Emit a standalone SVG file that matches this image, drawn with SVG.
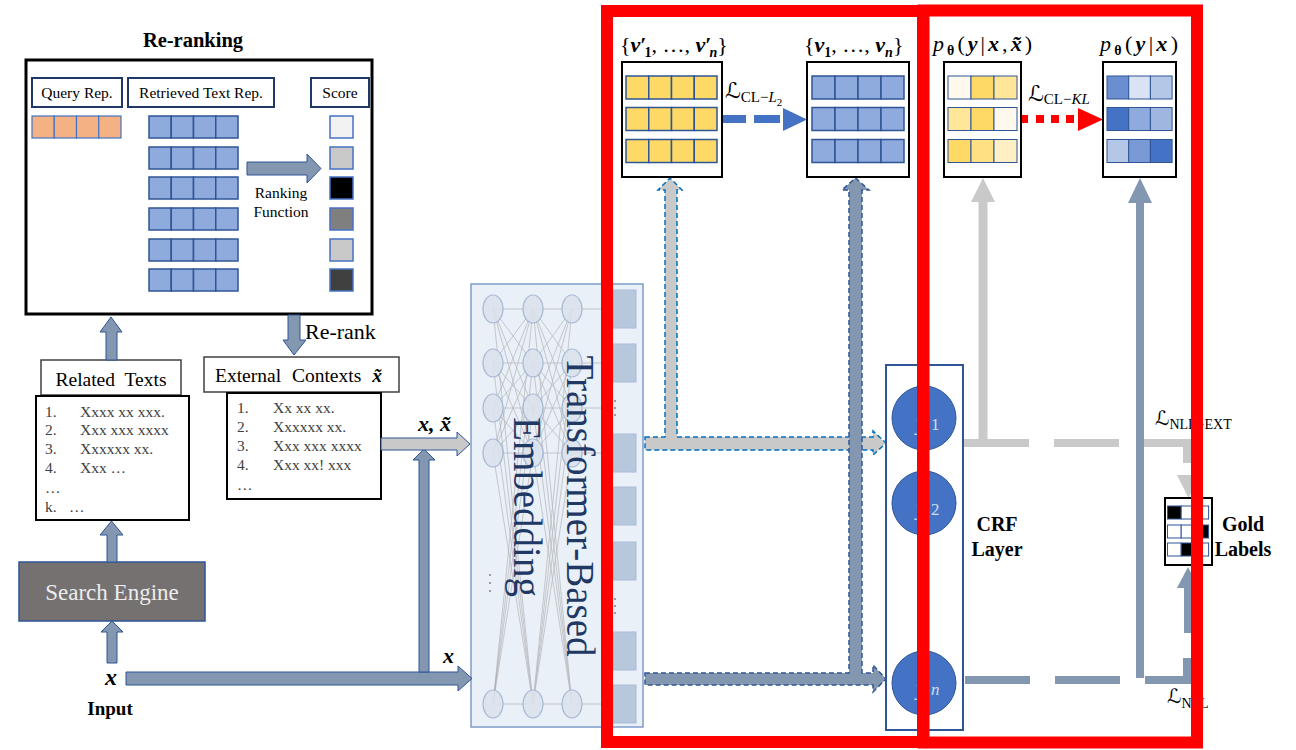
<svg xmlns="http://www.w3.org/2000/svg" width="1296" height="750" viewBox="0 0 1296 750">
<defs>
<style>
text{font-family:"Liberation Serif","Times New Roman",serif;fill:#000}
.hdr{font-size:15.5px;text-anchor:middle}
.lst{font-size:15.5px;fill:#404040}
.b{font-weight:bold}
.bi{font-weight:bold;font-style:italic}
.it{font-style:italic}
.cal{font-family:"DejaVu Serif","DejaVu Sans",serif}
.blk{fill:#8497B0;stroke:#2F5597;stroke-width:1}
.gry{fill:#C9C9C9;stroke:#2F5597;stroke-width:1}
.hbox{fill:#fff;stroke:#1F3864;stroke-width:2}
.cellB{fill:#8FAADC;stroke:#2F5597;stroke-width:1.5}
.cellY{fill:#FFD966;stroke:#2F5597;stroke-width:1.5}
.cellO{fill:#F4B183;stroke:#4472C4;stroke-width:1.2}
.sq{stroke:#4472C4;stroke-width:1.5}
.frame{fill:#fff;stroke:#000;stroke-width:2}
.red{fill:none;stroke:#FF0000;stroke-width:12}
.neu{fill:#DCE3EE;stroke:#A3B6D4;stroke-width:1.2}
.tok{fill:#B8C8DC;stroke:#A9BCD6;stroke-width:1}
.gc{stroke:#2F5597;stroke-width:1}
.yl{font-size:20px;font-style:italic;fill:#fff}
</style>
<g id="rowB4">
<rect class="cellB" x="0" y="0" width="22.25" height="22"/>
<rect class="cellB" x="22.25" y="0" width="22.25" height="22"/>
<rect class="cellB" x="44.5" y="0" width="22.25" height="22"/>
<rect class="cellB" x="66.75" y="0" width="22.25" height="22"/>
</g>
<g id="rowY4">
<rect class="cellY" x="0" y="0" width="22.75" height="23"/>
<rect class="cellY" x="22.75" y="0" width="22.75" height="23"/>
<rect class="cellY" x="45.5" y="0" width="22.75" height="23"/>
<rect class="cellY" x="68.25" y="0" width="22.75" height="23"/>
</g>
<g id="rowV4">
<rect class="cellB" x="0" y="0" width="23" height="23"/>
<rect class="cellB" x="23" y="0" width="23" height="23"/>
<rect class="cellB" x="46" y="0" width="23" height="23"/>
<rect class="cellB" x="69" y="0" width="23" height="23"/>
</g>
</defs>

<rect width="1296" height="750" fill="#fff"/>

<!-- Re-ranking module -->
<g id="reranking">
<text x="193" y="47" font-size="20.5" class="b" text-anchor="middle">Re-ranking</text>
<rect x="26" y="60" width="346" height="254" fill="#fff" stroke="#000" stroke-width="3"/>
<rect class="hbox" x="32" y="78" width="90" height="29"/>
<rect class="hbox" x="128" y="78" width="146" height="29"/>
<rect class="hbox" x="311" y="78" width="58" height="29"/>
<text class="hdr" x="77" y="98">Query Rep.</text>
<text class="hdr" x="201" y="98">Retrieved Text Rep.</text>
<text class="hdr" x="340" y="98">Score</text>
<rect class="cellO" x="32" y="116" width="22.25" height="22"/>
<rect class="cellO" x="54.25" y="116" width="22.25" height="22"/>
<rect class="cellO" x="76.5" y="116" width="22.25" height="22"/>
<rect class="cellO" x="98.75" y="116" width="22.25" height="22"/>
<use href="#rowB4" x="149" y="116"/>
<use href="#rowB4" x="149" y="147"/>
<use href="#rowB4" x="149" y="177"/>
<use href="#rowB4" x="149" y="208"/>
<use href="#rowB4" x="149" y="239"/>
<use href="#rowB4" x="149" y="269"/>
<rect class="sq" x="330" y="116" width="23" height="22" fill="#F2F2F2"/>
<rect class="sq" x="330" y="147" width="23" height="22" fill="#C9C9C9"/>
<rect class="sq" x="330" y="177" width="23" height="22" fill="#000000"/>
<rect class="sq" x="330" y="208" width="23" height="22" fill="#7F7F7F"/>
<rect class="sq" x="330" y="239" width="23" height="22" fill="#C9C9C9"/>
<rect class="sq" x="330" y="269" width="23" height="22" fill="#404040"/>
<polygon class="blk" points="247,162 307,162 307,154 321,168.5 307,183 307,175 247,175"/>
<text class="hdr" x="281" y="198">Ranking</text>
<text class="hdr" x="281" y="217">Function</text>
</g>

<!-- Related texts -->
<g id="related-texts">
<rect x="41" y="360" width="140" height="35" fill="#fff" stroke="#404040" stroke-width="1.5"/>
<text x="111" y="386" font-size="19.5" text-anchor="middle" word-spacing="5">Related Texts</text>
<rect class="frame" x="36" y="396" width="153" height="124"/>
<text class="lst" x="45" y="417">1.</text><text class="lst" x="80" y="417">Xxxx xx xxx.</text>
<text class="lst" x="45" y="435">2.</text><text class="lst" x="80" y="435">Xxx xxx xxxx</text>
<text class="lst" x="45" y="454">3.</text><text class="lst" x="80" y="454">Xxxxxx xx.</text>
<text class="lst" x="45" y="473">4.</text><text class="lst" x="80" y="473">Xxx …</text>
<text class="lst" x="45" y="493">…</text>
<text class="lst" x="45" y="512">k.</text><text class="lst" x="69" y="512">…</text>
</g>

<!-- External contexts -->
<g id="external-contexts">
<rect x="204" y="357" width="195" height="35" fill="#fff" stroke="#404040" stroke-width="1.5"/>
<text x="215" y="382" font-size="19.5" word-spacing="6">External Contexts <tspan class="bi">x̃</tspan></text>
<rect class="frame" x="227" y="393" width="154" height="106"/>
<text class="lst" x="237" y="413">1.</text><text class="lst" x="273" y="413">Xx xx xx.</text>
<text class="lst" x="237" y="432">2.</text><text class="lst" x="273" y="432">Xxxxxx xx.</text>
<text class="lst" x="237" y="451">3.</text><text class="lst" x="273" y="451">Xxx xxx xxxx</text>
<text class="lst" x="237" y="470">4.</text><text class="lst" x="273" y="470">Xxx xx! xxx</text>
<text class="lst" x="237" y="490">…</text>
</g>

<!-- Search engine and input -->
<g id="search-engine">
<rect x="19" y="562" width="186" height="59" fill="#767171" stroke="#2F5597" stroke-width="1.5"/>
<text x="112" y="600" font-size="23" text-anchor="middle" style="fill:#EDEDED">Search Engine</text>
</g>
<g id="input">
<text x="111" y="685" font-size="24" class="bi" text-anchor="middle">x</text>
<text x="110" y="715" font-size="19" class="b" text-anchor="middle">Input</text>
</g>

<!-- Transformer-based embedding -->
<g id="transformer">
<rect x="471" y="284" width="172" height="443" fill="#EAF0F8" stroke="#7F9CC9" stroke-width="1.5"/>
<g stroke="#A6A6A6" stroke-width="0.8" opacity="0.7" fill="none">
<path d="M493 309L533 309M493 309L533 363M493 309L533 408M493 309L533 453M493 309L533 704M493 363L533 309M493 363L533 363M493 363L533 408M493 363L533 453M493 363L533 704M493 408L533 309M493 408L533 363M493 408L533 408M493 408L533 453M493 408L533 704M493 453L533 309M493 453L533 363M493 453L533 408M493 453L533 453M493 453L533 704M493 704L533 309M493 704L533 363M493 704L533 408M493 704L533 453M493 704L533 704"/>
<path d="M533 309L572 309M533 309L572 363M533 309L572 408M533 309L572 453M533 309L572 704M533 363L572 309M533 363L572 363M533 363L572 408M533 363L572 453M533 363L572 704M533 408L572 309M533 408L572 363M533 408L572 408M533 408L572 453M533 408L572 704M533 453L572 309M533 453L572 363M533 453L572 408M533 453L572 453M533 453L572 704M533 704L572 309M533 704L572 363M533 704L572 408M533 704L572 453M533 704L572 704"/>
<path d="M572 309L613 309M572 363L613 363M572 408L613 408M572 453L613 453M572 704L613 704"/>
</g>
<g opacity="0.9">
<ellipse class="neu" cx="493" cy="309" rx="10" ry="14"/><ellipse class="neu" cx="493" cy="363" rx="10" ry="14"/><ellipse class="neu" cx="493" cy="408" rx="10" ry="14"/><ellipse class="neu" cx="493" cy="453" rx="10" ry="14"/><ellipse class="neu" cx="493" cy="704" rx="10" ry="14"/>
<ellipse class="neu" cx="533" cy="309" rx="10" ry="14"/><ellipse class="neu" cx="533" cy="363" rx="10" ry="14"/><ellipse class="neu" cx="533" cy="408" rx="10" ry="14"/><ellipse class="neu" cx="533" cy="453" rx="10" ry="14"/><ellipse class="neu" cx="533" cy="704" rx="10" ry="14"/>
<ellipse class="neu" cx="572" cy="309" rx="10" ry="14"/><ellipse class="neu" cx="572" cy="363" rx="10" ry="14"/><ellipse class="neu" cx="572" cy="408" rx="10" ry="14"/><ellipse class="neu" cx="572" cy="453" rx="10" ry="14"/><ellipse class="neu" cx="572" cy="704" rx="10" ry="14"/>
</g>
<rect class="tok" x="613" y="290" width="23" height="38"/>
<rect class="tok" x="613" y="344" width="23" height="38"/>
<rect class="tok" x="613" y="434" width="23" height="38"/>
<rect class="tok" x="613" y="487" width="23" height="38"/>
<rect class="tok" x="613" y="542" width="23" height="38"/>
<rect class="tok" x="613" y="632" width="23" height="38"/>
<rect class="tok" x="613" y="685" width="23" height="38"/>
<g fill="#808080">
<circle cx="490" cy="575" r="1"/><circle cx="490" cy="583" r="1"/><circle cx="490" cy="591" r="1"/>
<circle cx="615" cy="401" r="1"/><circle cx="615" cy="408" r="1"/><circle cx="615" cy="415" r="1"/>
<circle cx="615" cy="599" r="1"/><circle cx="615" cy="606" r="1"/><circle cx="615" cy="613" r="1"/>
</g>
<text transform="translate(567,506) rotate(90)" font-size="39" text-anchor="middle" style="fill:#1F3864">Transformer-Based</text>
<text transform="translate(514,507) rotate(90)" font-size="39" text-anchor="middle" style="fill:#1F3864">Embedding</text>
</g>

<!-- Connectors -->
<g id="connectors">
<polygon class="blk" points="106,360 106,332 100,332 111,317 122,332 117,332 117,360"/>
<polygon class="blk" points="288,315 300,315 300,340 306,340 294,355 283,340 288,340"/>
<polygon class="blk" points="107,562 107,535 100,535 111.5,521 123,535 117,535 117,562"/>
<polygon class="blk" points="107,663 107,632 101,632 112,621 123,632 117,632 117,663"/>
<polygon class="blk" points="126,672 458,672 458,666 472,678.5 458,691 458,685 126,685"/>
<polygon class="blk" points="419,672 419,460 413,460 424,449 435,460 429,460 429,672"/>
<polygon class="gry" points="381,438 457,438 457,432 470,444 457,456 457,450 381,450"/>
<text x="305" y="339" font-size="22">Re-rank</text>
<text x="418" y="431" font-size="22" class="bi">x, x̃</text>
<text x="443" y="663" font-size="22" class="bi">x</text>

<!-- embedding outputs to v' / v and to CRF -->
<polygon points="645,437 665,437 665,190 658,190 670,178 682,190 677,190 677,437 873,437 873,431 886,443 873,455 873,450 645,450" fill="#C9C9C9" stroke="#0070C0" stroke-width="1.5" stroke-dasharray="5 3"/>
<polygon points="645,673 849,673 849,190 842,190 855.5,178 869,190 862,190 862,673 873,673 873,665 886,679 873,692 873,685 645,685" fill="#8497B0" stroke="#2F5597" stroke-width="1.5" stroke-dasharray="5 3"/>

<!-- contrastive terms -->
<g fill="#4472C4">
<rect x="723" y="115" width="23" height="8"/>
<rect x="754" y="115" width="26" height="8"/>
<polygon points="783,108 807,119.5 783,131"/>
</g>
<g fill="#FF0000">
<rect x="1021" y="115" width="7" height="8"/>
<rect x="1036" y="115" width="8" height="8"/>
<rect x="1051" y="115" width="8" height="8"/>
<rect x="1066" y="115" width="8" height="8"/>
<polygon points="1078,108 1103,119.5 1078,131"/>
</g>

<!-- CRF outputs -->
<g fill="#C9C9C9">
<rect x="978.5" y="202" width="9" height="245"/>
<polygon points="971,202 995,202 983,178"/>
<rect x="963" y="439" width="66" height="8"/>
<rect x="1054" y="439" width="65" height="8"/>
<rect x="1144" y="439" width="48" height="8"/>
<rect x="1183" y="439" width="9" height="24"/>
<polygon points="1177,475 1200,475 1188.5,498"/>
</g>
<g fill="#8497B0">
<rect x="1136" y="203" width="8" height="475"/>
<polygon points="1128,203 1152,203 1140,178"/>
<rect x="965" y="676" width="65" height="8"/>
<rect x="1055" y="676" width="65" height="8"/>
<rect x="1145" y="676" width="47" height="8"/>
<rect x="1183" y="658" width="9" height="26"/>
<rect x="1184" y="588" width="8" height="45"/>
<polygon points="1177,588 1199,588 1188,567"/>
</g>
</g>

<!-- Embedding vectors -->
<g id="v-prime">
<text x="620" y="52" font-size="22">{<tspan class="bi">v</tspan><tspan class="b">′</tspan><tspan class="b" font-size="14" dx="-2" dy="5">1</tspan><tspan dy="-5">, …, </tspan><tspan class="bi">v</tspan><tspan class="b">′</tspan><tspan class="bi" font-size="14" dx="-2" dy="5">n</tspan><tspan dy="-5">}</tspan></text>
<rect class="frame" x="622" y="62" width="100" height="115"/>
<use href="#rowY4" x="626" y="76"/>
<use href="#rowY4" x="626" y="107.5"/>
<use href="#rowY4" x="626" y="139.5"/>
</g>
<g id="v">
<text x="804" y="52" font-size="22">{<tspan class="bi">v</tspan><tspan class="b" font-size="14" dy="5">1</tspan><tspan dy="-5">, …, </tspan><tspan class="bi">v</tspan><tspan class="bi" font-size="14" dy="5">n</tspan><tspan dy="-5">}</tspan></text>
<rect class="frame" x="807" y="62" width="102" height="115"/>
<use href="#rowV4" x="812" y="76"/>
<use href="#rowV4" x="812" y="107.5"/>
<use href="#rowV4" x="812" y="139.5"/>
</g>
<g id="loss-cl-l2">
<text x="725" y="98" font-size="22"><tspan class="cal">ℒ</tspan><tspan font-size="15" dy="4">CL−</tspan><tspan font-size="15" class="it">L</tspan><tspan font-size="11" dy="4">2</tspan></text>
</g>

<!-- Output distributions -->
<g id="p-ext">
<text x="933" y="51" font-size="22" textLength="99" lengthAdjust="spacing"><tspan class="it">p</tspan><tspan class="b" font-size="14" dy="4">θ</tspan><tspan dy="-4">(</tspan><tspan class="bi">y</tspan>|<tspan class="bi">x</tspan>,<tspan class="bi">x̃</tspan>)</text>
<rect class="frame" x="944" y="62" width="77" height="115"/>
<rect class="gc" x="948" y="76" width="23" height="23" fill="#FEF9EC"/>
<rect class="gc" x="971" y="76" width="23" height="23" fill="#FFD966"/>
<rect class="gc" x="994" y="76" width="23" height="23" fill="#FFE699"/>
<rect class="gc" x="948" y="107.5" width="23" height="23" fill="#FFE699"/>
<rect class="gc" x="971" y="107.5" width="23" height="23" fill="#FFD966"/>
<rect class="gc" x="994" y="107.5" width="23" height="23" fill="#FEF9EC"/>
<rect class="gc" x="948" y="139.5" width="23" height="23" fill="#FFD966"/>
<rect class="gc" x="971" y="139.5" width="23" height="23" fill="#FFE083"/>
<rect class="gc" x="994" y="139.5" width="23" height="23" fill="#FFEFC4"/>
</g>
<g id="p">
<text x="1100" y="51" font-size="22" textLength="78" lengthAdjust="spacing"><tspan class="it">p</tspan><tspan class="b" font-size="14" dy="4">θ</tspan><tspan dy="-4">(</tspan><tspan class="bi">y</tspan>|<tspan class="bi">x</tspan>)</text>
<rect class="frame" x="1103" y="62" width="73" height="115"/>
<rect class="gc" x="1107" y="76" width="21.7" height="23" fill="#6A8ED0"/>
<rect class="gc" x="1128.7" y="76" width="21.7" height="23" fill="#DAE3F3"/>
<rect class="gc" x="1150.4" y="76" width="21.7" height="23" fill="#B4C7E7"/>
<rect class="gc" x="1107" y="107.5" width="21.7" height="23" fill="#4472C4"/>
<rect class="gc" x="1128.7" y="107.5" width="21.7" height="23" fill="#8FAADC"/>
<rect class="gc" x="1150.4" y="107.5" width="21.7" height="23" fill="#9FB6E0"/>
<rect class="gc" x="1107" y="139.5" width="21.7" height="23" fill="#B4C7E7"/>
<rect class="gc" x="1128.7" y="139.5" width="21.7" height="23" fill="#7A9AD6"/>
<rect class="gc" x="1150.4" y="139.5" width="21.7" height="23" fill="#4472C4"/>
</g>
<g id="loss-cl-kl">
<text x="1028" y="101" font-size="22"><tspan class="cal">ℒ</tspan><tspan font-size="15" dy="3">CL−</tspan><tspan font-size="15" class="it">KL</tspan></text>
</g>

<!-- CRF layer -->
<g id="crf">
<rect x="886" y="365" width="77" height="365" fill="#fff" stroke="#2F5597" stroke-width="2"/>
<circle cx="924" cy="418" r="32" fill="#4472C4" stroke="#2F5597" stroke-width="1"/>
<circle cx="924" cy="503" r="32" fill="#4472C4" stroke="#2F5597" stroke-width="1"/>
<circle cx="924" cy="683" r="32" fill="#4472C4" stroke="#2F5597" stroke-width="1"/>
<g opacity="0.75">
<text class="yl" x="916" y="430">y<tspan font-size="17" dx="6" style="font-style:normal">1</tspan></text>
<text class="yl" x="916" y="515">y<tspan font-size="17" dx="6" style="font-style:normal">2</tspan></text>
<text class="yl" x="916" y="695">y<tspan font-size="17" dx="6">n</tspan></text>
</g>
<text x="997" y="531" font-size="20" class="b" text-anchor="middle">CRF</text>
<text x="997" y="556" font-size="20" class="b" text-anchor="middle">Layer</text>
</g>

<!-- Gold labels -->
<g id="gold-labels">
<rect x="1165" y="498" width="47" height="67" fill="#fff" stroke="#000" stroke-width="2"/>
<rect class="gc" x="1167.5" y="506" width="13.7" height="13" fill="#000"/>
<rect class="gc" x="1181.2" y="506" width="13.7" height="13" fill="#fff"/>
<rect class="gc" x="1194.9" y="506" width="13.7" height="13" fill="#fff"/>
<rect class="gc" x="1167.5" y="525" width="13.7" height="13" fill="#fff"/>
<rect class="gc" x="1181.2" y="525" width="13.7" height="13" fill="#fff"/>
<rect class="gc" x="1194.9" y="525" width="13.7" height="13" fill="#000"/>
<rect class="gc" x="1167.5" y="543" width="13.7" height="13" fill="#fff"/>
<rect class="gc" x="1181.2" y="543" width="13.7" height="13" fill="#000"/>
<rect class="gc" x="1194.9" y="543" width="13.7" height="13" fill="#fff"/>
<text x="1243" y="531" font-size="20" class="b" text-anchor="middle">Gold</text>
<text x="1243" y="556" font-size="20" class="b" text-anchor="middle">Labels</text>
</g>
<g id="loss-nll">
<text x="1155" y="425" font-size="20"><tspan class="cal">ℒ</tspan><tspan font-size="14" dy="4">NLL−EXT</tspan></text>
<text x="1167" y="703" font-size="20"><tspan class="cal">ℒ</tspan><tspan font-size="14" dy="5">NLL</tspan></text>
</g>

<!-- Highlight frames -->
<g id="highlights">
<rect class="red" x="607" y="11" width="316" height="731"/>
<rect class="red" x="923.5" y="10.5" width="273.5" height="732"/>
</g>
</svg>
